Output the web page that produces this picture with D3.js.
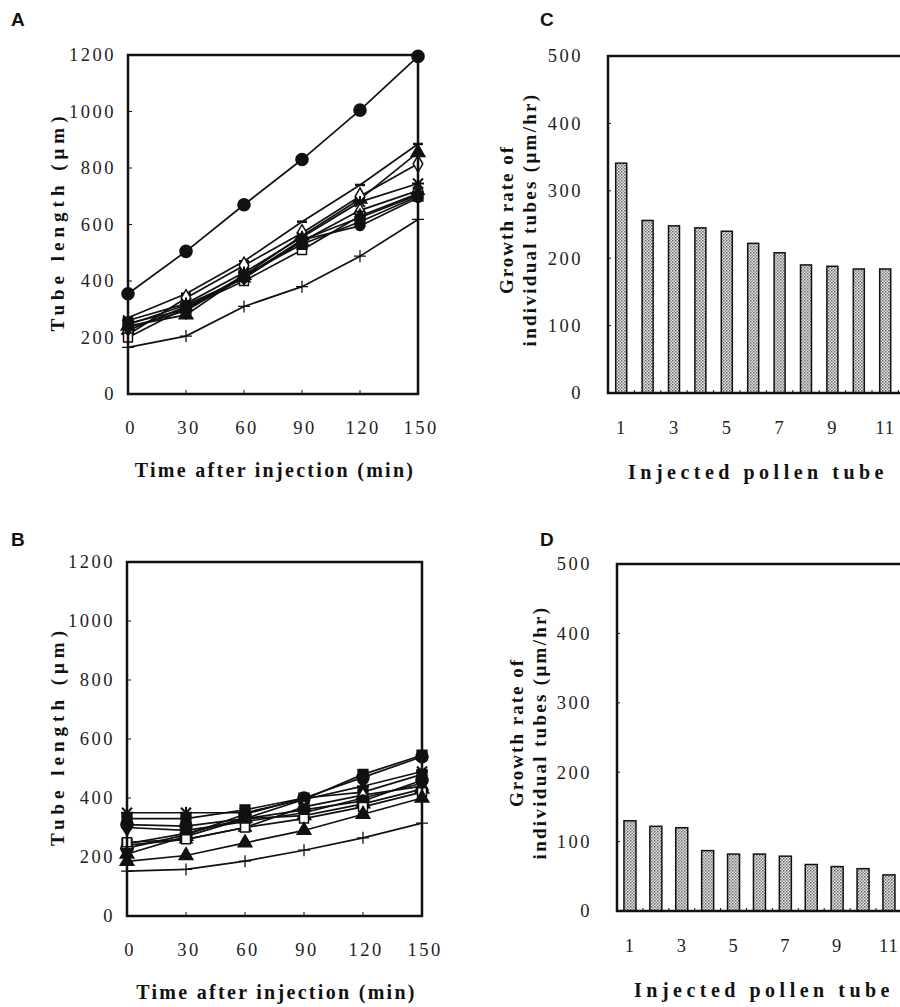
<!DOCTYPE html>
<html>
<head>
<meta charset="utf-8">
<script src="https://cdn.jsdelivr.net/npm/d3@7"></script>
<style>
  body { margin: 0; background: #fff; }
  svg { display: block; }
  .tick-label { font-family: "Liberation Serif", "DejaVu Serif", serif; font-size: 18.5px; letter-spacing: 2.5px; fill: #222; }
  .ax-title { font-family: "Liberation Serif", "DejaVu Serif", serif; font-size: 20px; font-weight: bold; fill: #111; }
  .panel-label { font-family: "Liberation Sans", Arial, sans-serif; font-size: 19px; font-weight: bold; fill: #111; }
</style>
</head>
<body>
<svg id="canvas"></svg>
<script>
// Canvas size
const width = 900, height = 1007;

// Time points (min) and axis ticks
const timePoints = [0, 30, 60, 90, 120, 150];
const lengthTicks = [0, 200, 400, 600, 800, 1000, 1200];
const rateTicks = [0, 100, 200, 300, 400, 500];
const tubeIds = [1, 2, 3, 4, 5, 6, 7, 8, 9, 10, 11];
const tubeTickLabels = [1, 3, 5, 7, 9, 11];

// Panel A: tube length of each injected tube (um)
const lengthA = [
    [355, 505, 670, 830, 1005, 1195],
    [270, 355, 470, 610, 740, 885],
    [240, 280, 420, 560, 690, 855],
    [210, 340, 455, 570, 700, 815],
    [260, 320, 430, 555, 680, 745],
    [225, 310, 410, 540, 650, 720],
    [200, 305, 400, 510, 630, 710],
    [250, 300, 420, 530, 610, 700],
    [235, 295, 415, 545, 625, 705],
    [245, 315, 410, 545, 595, 695],
    [165, 205, 310, 380, 488, 618]
];
const markersA = ["circleF", "dash", "triangleF", "diamondO", "star", "triangleO",
                  "squareO", "squareF", "diamondF", "circleS", "plus"];

// Panel B: tube length of each injected tube (um)
const lengthB = [
    [245, 280, 330, 395, 480, 545],
    [230, 275, 345, 400, 470, 540],
    [350, 350, 350, 395, 440, 490],
    [330, 330, 360, 400, 420, 480],
    [300, 290, 320, 350, 400, 450],
    [240, 260, 300, 370, 410, 440],
    [210, 270, 330, 340, 380, 430],
    [310, 305, 330, 360, 390, 460],
    [250, 260, 300, 330, 370, 420],
    [185, 205, 248, 290, 345, 400],
    [152, 158, 186, 223, 265, 315]
];
const markersB = ["squareF", "circleF", "star", "squareF", "diamondF", "triangleO",
                  "triangleF", "circleF", "squareO", "triangleF", "plus"];

// Panels C and D: growth rate (um/hr)
const rateC = [341, 256, 248, 245, 240, 222, 208, 190, 188, 184, 184];
const rateD = [130, 122, 120, 87, 82, 82, 79, 67, 64, 61, 52];

const svg = d3.select("#canvas")
    .attr("width", width)
    .attr("height", height);

// Dotted fill for bars
const pat = svg.append("defs").append("pattern")
    .attr("id", "dots")
    .attr("width", 3).attr("height", 3)
    .attr("patternUnits", "userSpaceOnUse");
pat.append("rect").attr("width", 3).attr("height", 3).attr("fill", "#e8e8e8");
pat.append("rect").attr("width", 1.5).attr("height", 1.5).attr("fill", "#666");
pat.append("rect").attr("x", 1.5).attr("y", 1.5).attr("width", 1.5).attr("height", 1.5).attr("fill", "#888");

// Draw one marker
function drawMarker(g, type, x, y) {
    const m = g.append("g").attr("transform", `translate(${x},${y})`);
    const sym = (t, size, fill) => m.append("path")
        .attr("d", d3.symbol().type(t).size(size)())
        .attr("fill", fill).attr("stroke", "#111").attr("stroke-width", 1.5);
    switch (type) {
        case "circleF": sym(d3.symbolCircle, 115, "#111"); break;
        case "circleS": sym(d3.symbolCircle, 65, "#111"); break;
        case "squareF": sym(d3.symbolSquare, 95, "#111"); break;
        case "squareO": sym(d3.symbolSquare, 80, "#fff"); break;
        case "triangleF": sym(d3.symbolTriangle, 80, "#111"); break;
        case "triangleO": sym(d3.symbolTriangle, 65, "#fff"); break;
        case "diamondF": sym(d3.symbolDiamond, 80, "#111"); break;
        case "diamondO": sym(d3.symbolDiamond, 80, "#fff"); break;
        case "plus":
            m.append("path").attr("d", "M-6,0H6M0,-6V6")
                .attr("stroke", "#111").attr("stroke-width", 1.3);
            break;
        case "star":
            m.append("path").attr("d", "M-6,0H6M0,-6V6M-5,-5L5,5M-5,5L5,-5")
                .attr("stroke", "#111").attr("stroke-width", 2);
            break;
        case "dash":
            m.append("path").attr("d", "M-5,0H5")
                .attr("stroke", "#111").attr("stroke-width", 2.5);
            break;
    }
}

// Frame round the plot area
function drawFrame(g, x0, x1, y0, y1) {
    g.append("rect")
        .attr("x", x0).attr("y", y0)
        .attr("width", x1 - x0).attr("height", y1 - y0)
        .attr("fill", "none").attr("stroke", "#111").attr("stroke-width", 2.5);
}

// Line chart panel (A or B)
function linePanel(opt) {
    const g = svg.append("g");
    const x = d3.scaleLinear().domain([0, 150]).range([opt.left, opt.right]);
    const y = d3.scaleLinear().domain([0, 1200]).range([opt.bottom, opt.top]);

    // inward ticks
    g.selectAll(".yt").data(lengthTicks.slice(1, -1)).enter().append("line")
        .attr("x1", opt.left).attr("x2", opt.left + 4)
        .attr("y1", d => y(d)).attr("y2", d => y(d))
        .attr("stroke", "#111").attr("stroke-width", 1);
    g.selectAll(".xt").data(timePoints.slice(1, -1)).enter().append("line")
        .attr("x1", d => x(d)).attr("x2", d => x(d))
        .attr("y1", opt.bottom).attr("y2", opt.bottom - 4)
        .attr("stroke", "#111").attr("stroke-width", 1);

    const line = d3.line().x((d, i) => x(timePoints[i])).y(d => y(d));
    opt.data.forEach(s => {
        g.append("path").datum(s).attr("d", line)
            .attr("fill", "none").attr("stroke", "#111").attr("stroke-width", 1.7);
    });
    opt.data.forEach((s, k) => {
        s.forEach((v, i) => drawMarker(g, opt.markers[k], x(timePoints[i]), y(v)));
    });

    drawFrame(g, opt.left, opt.right, opt.top, opt.bottom);

    // tick labels
    g.selectAll(".yl").data(lengthTicks).enter().append("text")
        .attr("class", "tick-label")
        .attr("x", opt.left - 12).attr("y", d => y(d))
        .attr("dy", "0.35em").attr("text-anchor", "end")
        .text(d => d);
    g.selectAll(".xl").data(timePoints).enter().append("text")
        .attr("class", "tick-label")
        .attr("x", d => x(d) + 3).attr("y", opt.bottom + 34)
        .attr("dy", "0.35em").attr("text-anchor", "middle")
        .text(d => d);

    g.append("text").attr("class", "ax-title")
        .attr("x", (opt.left + opt.right) / 2 + 2).attr("y", opt.bottom + 76)
        .attr("dy", "0.35em").attr("text-anchor", "middle")
        .style("letter-spacing", "2.3px")
        .text("Time after injection (min)");
    g.append("text")
        .attr("class", "ax-title")
        .attr("transform", `translate(57,${(opt.top + opt.bottom) / 2 - 3}) rotate(-90)`)
        .attr("dy", "0.35em").attr("text-anchor", "middle")
        .style("letter-spacing", "5px").style("font-size", "19px").style("font-weight", "600")
        .text("Tube length (\u03bcm)");

    svg.append("text").attr("class", "panel-label")
        .attr("x", 11).attr("y", opt.labelY).text(opt.label);
}

// Bar chart panel (C or D)
function barPanel(opt) {
    const g = svg.append("g");
    const x = d3.scaleLinear().domain([0.5, 12.5]).range([opt.left, opt.left + 12 * opt.step]);
    const y = d3.scaleLinear().domain([0, 500]).range([opt.bottom, opt.top]);

    g.selectAll(".yt").data(rateTicks.slice(1, -1)).enter().append("line")
        .attr("x1", opt.left).attr("x2", opt.left + 3)
        .attr("y1", d => y(d)).attr("y2", d => y(d))
        .attr("stroke", "#111").attr("stroke-width", 1);
    g.selectAll(".xt").data(tubeIds).enter().append("line")
        .attr("x1", d => x(d + 0.5)).attr("x2", d => x(d + 0.5))
        .attr("y1", opt.bottom).attr("y2", opt.bottom - 3)
        .attr("stroke", "#111").attr("stroke-width", 1);

    g.selectAll(".bar").data(opt.data).enter().append("rect")
        .attr("x", (d, i) => x(tubeIds[i]) - opt.barW / 2)
        .attr("width", opt.barW)
        .attr("y", d => y(d))
        .attr("height", d => opt.bottom - y(d))
        .attr("fill", "url(#dots)")
        .attr("stroke", "#111").attr("stroke-width", 1.5);

    drawFrame(g, opt.left, opt.left + 12 * opt.step, opt.top, opt.bottom);

    g.selectAll(".yl").data(rateTicks).enter().append("text")
        .attr("class", "tick-label")
        .attr("x", opt.left - 25).attr("y", d => y(d))
        .attr("dy", "0.35em").attr("text-anchor", "end")
        .text(d => d);
    g.selectAll(".xl").data(tubeTickLabels).enter().append("text")
        .attr("class", "tick-label")
        .attr("x", d => x(d)).attr("y", opt.bottom + 35)
        .attr("dy", "0.35em").attr("text-anchor", "middle")
        .style("letter-spacing", "1px")
        .text(d => d);

    g.append("text").attr("class", "ax-title")
        .attr("x", opt.titleX).attr("y", opt.bottom + 79)
        .attr("dy", "0.35em").attr("text-anchor", "middle")
        .style("letter-spacing", "4.5px")
        .text("Injected pollen tube");
    const cy = (opt.top + opt.bottom) / 2 - 5;
    g.append("text").attr("class", "ax-title")
        .attr("transform", `translate(${opt.yTitleX},${cy}) rotate(-90)`)
        .attr("dy", "0.35em").attr("text-anchor", "middle")
        .style("font-size", "19px").style("letter-spacing", "2px")
        .text("Growth rate of");
    g.append("text").attr("class", "ax-title")
        .attr("transform", `translate(${opt.yTitleX + 23},${cy}) rotate(-90)`)
        .attr("dy", "0.35em").attr("text-anchor", "middle")
        .style("font-size", "19px").style("letter-spacing", "2.3px")
        .text("individual tubes (\u03bcm/hr)");

    svg.append("text").attr("class", "panel-label")
        .attr("x", 540).attr("y", opt.labelY).text(opt.label);
}

linePanel({ left: 128, right: 418, top: 55, bottom: 394, data: lengthA, markers: markersA, label: "A", labelY: 26 });
linePanel({ left: 127, right: 422, top: 562, bottom: 916, data: lengthB, markers: markersB, label: "B", labelY: 546 });
barPanel({ left: 608, step: 26.4, top: 56, bottom: 393, barW: 11, data: rateC, label: "C", labelY: 26, titleX: 758, yTitleX: 506 });
barPanel({ left: 617, step: 25.9, top: 564, bottom: 911, barW: 12, data: rateD, label: "D", labelY: 546, titleX: 764, yTitleX: 516 });
</script>
</body>
</html>
